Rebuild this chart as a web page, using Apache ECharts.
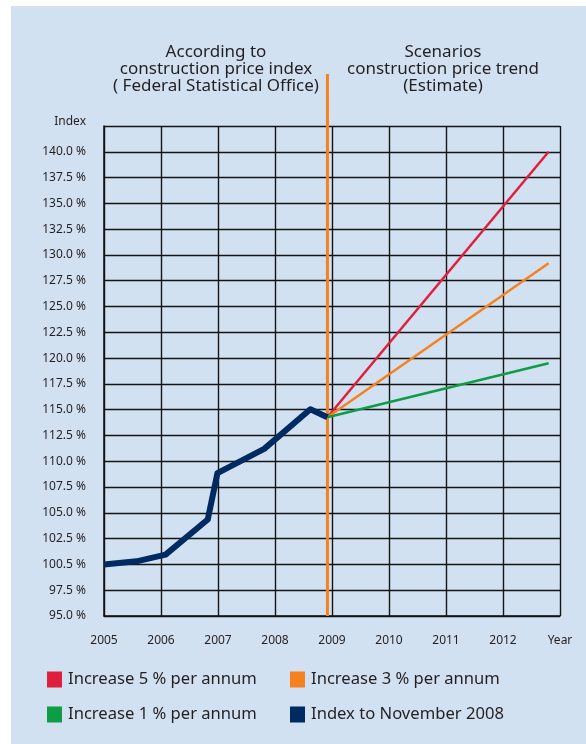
<!DOCTYPE html>
<html>
<head>
<meta charset="utf-8">
<script src="https://cdn.jsdelivr.net/npm/echarts@6/dist/echarts.min.js"></script>
<style>
  html, body { margin: 0; padding: 0; background: #ffffff; }
  #panel { position: absolute; left: 11px; top: 6px; width: 575px; height: 738px; background: #d2e1f2; }
  #chart { position: absolute; left: 0; top: 0; width: 586px; height: 744px; }
</style>
</head>
<body>
<div id="panel"></div>
<div id="chart"></div>
<script>
// Axis tick labels
const xTickLabels = ['2005', '2006', '2007', '2008', '2009', '2010', '2011', '2012', 'Year'];
const yTickLabels = ['95.0 %', '97.5 %', '100.5 %', '102.5 %', '105.0 %', '107.5 %', '110.0 %',
  '112.5 %', '115.0 %', '117.5 %', '120.0 %', '122.5 %', '125.0 %', '127.5 %', '130.0 %',
  '132.5 %', '135.0 %', '137.5 %', '140.0 %'];

// Construction price index up to November 2008 (decimal years)
const indexX = [2005.0, 2005.57, 2006.08, 2006.82, 2006.99, 2007.81, 2008.62, 2008.92];
const indexY = [100.0, 100.3, 100.95, 104.35, 108.85, 111.2, 115.05, 114.26];

// Scenario trends from November 2008 onwards
const scenarioX = [2008.92, 2012.8];
const increase5 = [114.26, 140.0];
const increase3 = [114.26, 129.2];
const increase1 = [114.26, 119.5];

// Boundary between recorded index and estimate
const splitYear = 2008.92;

const names = ['Increase 5 % per annum', 'Increase 3 % per annum', 'Increase 1 % per annum', 'Index to November 2008'];
const colors = { red: '#e01f3d', orange: '#f5821f', green: '#0e9c47', navy: '#002a62' };

const pairs = (xs, ys) => xs.map((x, i) => [x, ys[i]]);

const textColor = '#231f20';
const font = 'Noto Sans';

const chart = echarts.init(document.getElementById('chart'), null, { renderer: 'canvas' });

const legendCommon = {
  orient: 'vertical',
  icon: 'rect',
  itemWidth: 15,
  itemHeight: 16,
  itemGap: 18,
  top: 666,
  textStyle: { fontFamily: font, fontSize: 16.6, color: textColor, lineHeight: 16, padding: [0, 0, 0, 1] }
};

chart.setOption({
  animation: false,
  graphic: [
    {
      type: 'text', x: 216, y: 44, silent: true,
      style: { text: 'According to\nconstruction price index\n( Federal Statistical Office)',
        align: 'center', verticalAlign: 'top', fontFamily: font, fontSize: 17, lineHeight: 16.7, fill: textColor }
    },
    {
      type: 'text', x: 443, y: 44, silent: true,
      style: { text: 'Scenarios\nconstruction price trend\n(Estimate)',
        align: 'center', verticalAlign: 'top', fontFamily: font, fontSize: 17, lineHeight: 16.7, fill: textColor }
    }
  ],
  legend: [
    Object.assign({}, legendCommon, { left: 42, data: [names[0], names[2]] }),
    Object.assign({}, legendCommon, { left: 285, data: [names[1], names[3]] })
  ],
  grid: [
    { left: 104, right: 26, top: 126, bottom: 128 },
    { left: 104, right: 26, top: 74, bottom: 128 }
  ],
  xAxis: [
    {
      type: 'value', gridIndex: 0, min: 2005, max: 2013, interval: 1,
      axisLine: { show: true, lineStyle: { color: '#111', width: 1.5 } },
      axisTick: { show: false },
      splitLine: { show: true, lineStyle: { color: '#151515', width: 1.4 } },
      axisLabel: {
        showMinLabel: true, showMaxLabel: true, margin: 19,
        fontFamily: font, fontSize: 12, color: textColor,
        formatter: v => xTickLabels[Math.round(v - 2005)] || ''
      }
    },
    { type: 'value', gridIndex: 1, min: 2005, max: 2013, show: false }
  ],
  yAxis: [
    {
      type: 'value', gridIndex: 0, min: 95, max: 142.5, interval: 2.5,
      name: 'Index', nameLocation: 'end', nameGap: 4,
      nameTextStyle: { fontFamily: font, fontSize: 12, color: textColor, align: 'right', verticalAlign: 'middle', padding: [0, 18, 0, 0] },
      axisLine: { show: true, lineStyle: { color: '#111', width: 1.5 } },
      axisTick: { show: false },
      splitLine: { show: true, lineStyle: { color: '#151515', width: 1.4 } },
      axisLabel: {
        showMinLabel: true, showMaxLabel: true, margin: 18,
        fontFamily: font, fontSize: 12, color: textColor,
        formatter: v => yTickLabels[Math.round((v - 95) / 2.5)] || ''
      }
    },
    { type: 'value', gridIndex: 1, min: 0, max: 1, show: false }
  ],
  series: [
    {
      name: 'divider', type: 'line', xAxisIndex: 1, yAxisIndex: 1, silent: true,
      data: [[splitYear, 0], [splitYear, 1]], showSymbol: false, symbol: 'none',
      lineStyle: { color: colors.orange, width: 3 }, z: 1
    },
    {
      name: names[0], type: 'line', data: pairs(scenarioX, increase5), symbol: 'none',
      color: colors.red, lineStyle: { color: colors.red, width: 2.5 }, z: 3
    },
    {
      name: names[1], type: 'line', data: pairs(scenarioX, increase3), symbol: 'none',
      color: colors.orange, lineStyle: { color: colors.orange, width: 2.5 }, z: 3
    },
    {
      name: names[2], type: 'line', data: pairs(scenarioX, increase1), symbol: 'none',
      color: colors.green, lineStyle: { color: colors.green, width: 2.5 }, z: 3
    },
    {
      name: names[3], type: 'line', data: pairs(indexX, indexY), symbol: 'none',
      color: colors.navy, lineStyle: { color: colors.navy, width: 6, join: 'round' }, z: 4
    }
  ]
});
</script>
</body>
</html>
